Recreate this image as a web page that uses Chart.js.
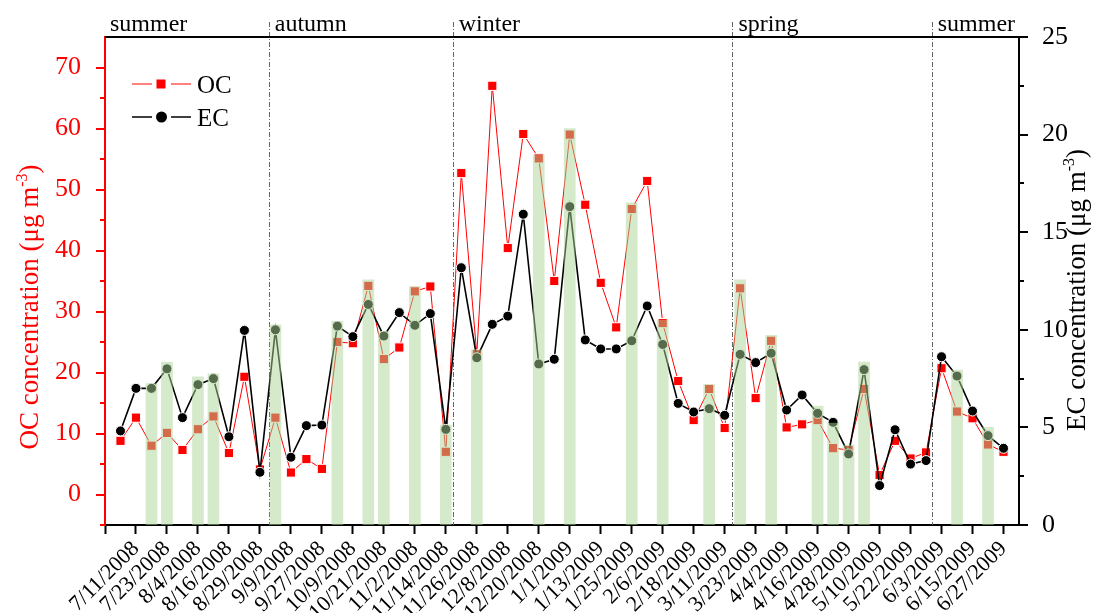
<!DOCTYPE html>
<html>
<head>
<meta charset="utf-8">
<script src="https://cdn.jsdelivr.net/npm/chart.js@4/dist/chart.umd.min.js"></script>
<style>
html,body{margin:0;padding:0;background:#fff;}
#wrap{width:1107px;height:613px;}
</style>
</head>
<body>
<div id="wrap"><canvas id="c" width="1107" height="613"></canvas></div>
<script>
// ---------------- data ----------------
const xIndex = [1,2,3,4,5,6,7,8,9,10,11,12,13,14,15,16,17,18,19,20,21,22,23,24,25,26,27,28,29,30,
  31,32,33,34,35,36,37,38,39,40,41,42,43,44,45,46,47,48,49,50,51,52,53,54,55,56,57,58];

const dateLabels = ['7/11/2008','7/23/2008','8/4/2008','8/16/2008','8/29/2008','9/9/2008','9/27/2008',
  '10/9/2008','10/21/2008','11/2/2008','11/14/2008','11/26/2008','12/8/2008','12/20/2008','1/1/2009',
  '1/13/2009','1/25/2009','2/6/2009','2/18/2009','3/11/2009','3/23/2009','4/4/2009','4/16/2009',
  '4/28/2009','5/10/2009','5/22/2009','6/3/2009','6/15/2009','6/27/2009'];
const dateTickPositions = [0,2,4,6,8,10,12,14,16,18,20,22,24,26,28,30,32,34,36,38,40,42,44,46,48,50,52,54,56,58];

const ocValues = [8.8,12.6,8.0,10.1,7.3,10.7,12.8,6.8,19.3,4.1,12.6,3.6,5.8,4.2,25.0,24.8,34.2,22.2,24.1,33.3,
  34.1,7.0,52.7,23.0,67.0,40.4,59.1,55.1,35.0,59.0,47.5,34.7,27.4,46.8,51.4,28.1,18.6,12.2,17.3,10.9,
  33.8,15.8,25.2,11.0,11.5,12.2,7.6,7.3,17.3,3.2,8.8,5.9,6.9,20.7,13.6,12.5,8.2,7.0];

const ecValues = [4.82,7.0,7.0,8.0,5.5,7.19,7.5,4.52,9.97,2.7,10.0,3.47,5.09,5.12,10.19,9.65,11.3,9.68,10.88,10.23,
  10.83,4.9,13.18,8.57,10.28,10.7,15.92,8.25,8.49,16.31,9.48,9.02,9.02,9.44,11.22,9.25,6.23,5.79,5.96,5.62,
  8.74,8.32,8.8,5.89,6.66,5.72,5.26,3.64,7.96,2.02,4.88,3.12,3.3,8.62,7.63,5.84,4.58,3.93];

// highlighted sampling days (bar height in OC units), null = no bar
const highlightValues = [null,null,18.2,21.7,null,19.3,19.8,null,null,null,27.8,null,null,null,28.4,null,35.2,26.7,null,34.1,
  null,11.4,null,23.7,null,null,null,55.7,null,60.0,null,null,null,47.8,null,28.6,null,null,18.0,null,
  35.2,null,26.1,null,null,14.5,11.7,8.1,21.7,null,null,null,null,null,20.4,null,11.0,null];

const ocTicks = [0,10,20,30,40,50,60,70];
const ecTicks = [0,5,10,15,20,25];
const seasonNames = ['summer','autumn','winter','spring','summer'];
const seasonBounds = [10.57, 22.45, 40.5, 53.37];

// ---------------- styling ----------------
const SERIF = '"Liberation Serif","Times New Roman",serif';
const RED = '#ff0000';
const BAR = 'rgba(170,214,150,0.5)';

function drawRich(ctx, parts, cx, cy, rot, color) {
  ctx.save();
  ctx.translate(cx, cy);
  ctx.rotate(rot);
  ctx.fillStyle = color;
  ctx.textBaseline = 'alphabetic';
  ctx.textAlign = 'left';
  let total = 0;
  parts.forEach(p => { ctx.font = p.size + 'px ' + SERIF; p.w = ctx.measureText(p.t).width; total += p.w; });
  let x = -total / 2;
  parts.forEach(p => { ctx.font = p.size + 'px ' + SERIF; ctx.fillText(p.t, x, -(p.rise || 0)); x += p.w; });
  ctx.restore();
}

const decor = {
  id: 'decor',
  beforeDatasetsDraw(chart) {
    const ctx = chart.ctx, xs = chart.scales.x, ca = chart.chartArea;
    ctx.save();
    ctx.strokeStyle = '#666';
    ctx.lineWidth = 1;
    ctx.setLineDash([5, 2, 1, 2]);
    seasonBounds.forEach(b => {
      const px = Math.round(xs.getPixelForValue(b)) + 0.5;
      ctx.beginPath(); ctx.moveTo(px, 22); ctx.lineTo(px, ca.bottom); ctx.stroke();
    });
    ctx.restore();
  },
  afterDraw(chart) {
    const ctx = chart.ctx, ca = chart.chartArea, xs = chart.scales.x;
    const yo = chart.scales.yOC, ye = chart.scales.yEC;
    ctx.save();
    // top frame
    ctx.strokeStyle = '#000'; ctx.lineWidth = 2;
    ctx.beginPath(); ctx.moveTo(ca.left, ca.top); ctx.lineTo(ca.right + 1, ca.top); ctx.stroke();
    // left ticks (major + minor)
    ctx.strokeStyle = RED; ctx.lineWidth = 2;
    for (let v = -5; v <= 70; v += 5) {
      const y = Math.round(yo.getPixelForValue(v));
      const len = (v % 10 === 0) ? 9 : 5;
      ctx.beginPath(); ctx.moveTo(ca.left, y); ctx.lineTo(ca.left - len, y); ctx.stroke();
    }
    // right ticks
    ctx.strokeStyle = '#000';
    for (let v = 0; v <= 25; v += 2.5) {
      const y = Math.round(ye.getPixelForValue(v));
      const len = (v % 5 === 0) ? 9 : 5;
      ctx.beginPath(); ctx.moveTo(ca.right, y); ctx.lineTo(ca.right + len, y); ctx.stroke();
    }
    // season labels
    ctx.fillStyle = '#000';
    ctx.font = '24px ' + SERIF;
    ctx.textBaseline = 'alphabetic'; ctx.textAlign = 'left';
    ctx.fillText(seasonNames[0], ca.left + 5, 31);
    seasonBounds.forEach((b, i) => {
      ctx.fillText(seasonNames[i + 1], xs.getPixelForValue(b) + 6, 31);
    });
    // legend
    ctx.font = '25px ' + SERIF;
    // OC row
    ctx.strokeStyle = RED; ctx.lineWidth = 1;
    ctx.beginPath(); ctx.moveTo(132, 84); ctx.lineTo(152, 84); ctx.moveTo(171, 84); ctx.lineTo(191, 84); ctx.stroke();
    ctx.fillStyle = RED; ctx.fillRect(156.5, 79.5, 9, 9);
    ctx.fillStyle = '#000'; ctx.fillText('OC', 197, 93);
    // EC row
    ctx.strokeStyle = '#000'; ctx.lineWidth = 1.6;
    ctx.beginPath(); ctx.moveTo(132, 117); ctx.lineTo(152, 117); ctx.moveTo(171, 117); ctx.lineTo(191, 117); ctx.stroke();
    ctx.beginPath(); ctx.arc(161.5, 117, 5.5, 0, Math.PI * 2); ctx.fill();
    ctx.fillText('EC', 197, 125.5);
    ctx.restore();
    // axis titles
    drawRich(ctx, [{t: 'OC concentration (\u03bcg m', size: 27}, {t: '-3', size: 16, rise: 11}, {t: ')', size: 27}],
      38, 307, -Math.PI / 2, RED);
    drawRich(ctx, [{t: 'EC concentration (\u03bcg m', size: 27}, {t: '-3', size: 16, rise: 11}, {t: ')', size: 27}],
      1085, 290, -Math.PI / 2, '#000');
  }
};

new Chart(document.getElementById('c').getContext('2d'), {
  type: 'line',
  data: {
    labels: xIndex,
    datasets: [
      {
        type: 'bar', label: 'highlight', data: highlightValues, yAxisID: 'yOC',
        backgroundColor: BAR, borderWidth: 0, barThickness: 11, base: -5, order: 0
      },
      {
        label: 'OC', data: ocValues, yAxisID: 'yOC',
        borderColor: RED, borderWidth: 1, tension: 0,
        pointStyle: 'rect', pointRadius: 6.5, pointBackgroundColor: RED,
        pointBorderColor: '#ffffff', pointBorderWidth: 1, order: 2
      },
      {
        label: 'EC', data: ecValues, yAxisID: 'yEC',
        borderColor: '#000', borderWidth: 1.6, tension: 0,
        pointStyle: 'circle', pointRadius: 5, pointBackgroundColor: '#000',
        pointBorderColor: '#ffffff', pointBorderWidth: 1, order: 1
      }
    ]
  },
  options: {
    responsive: false,
    animation: false,
    events: [],
    layout: {padding: {top: 37, left: 0, right: 0, bottom: 0}},
    plugins: {legend: {display: false}, tooltip: {enabled: false}, title: {display: false}},
    scales: {
      x: {
        type: 'linear', position: 'bottom', min: 0, max: 59, offset: false,
        afterBuildTicks: s => { s.ticks = dateTickPositions.map(v => ({value: v})); },
        afterFit: s => { s.height = 88; },
        grid: {display: true, offset: false, drawOnChartArea: false, drawTicks: true, tickLength: 9, tickWidth: 2, tickColor: '#000'},
        border: {display: true, color: '#000', width: 2},
        ticks: {
          autoSkip: false, minRotation: 45, maxRotation: 45, padding: 2, color: '#000',
          font: {family: SERIF, size: 22},
          callback: v => (v === 0 ? '' : dateLabels[v / 2 - 1])
        }
      },
      yOC: {
        type: 'linear', position: 'left', min: -5, max: 75,
        afterBuildTicks: s => { s.ticks = ocTicks.map(v => ({value: v})); },
        afterFit: s => { s.width = 105; },
        grid: {display: false},
        border: {display: true, color: RED, width: 2},
        ticks: {color: RED, padding: 16, font: {family: SERIF, size: 26}}
      },
      yEC: {
        type: 'linear', position: 'right', min: 0, max: 25,
        afterBuildTicks: s => { s.ticks = ecTicks.map(v => ({value: v})); },
        afterFit: s => { s.width = 88; },
        grid: {display: false},
        border: {display: true, color: '#000', width: 2},
        ticks: {color: '#000', padding: 15, font: {family: SERIF, size: 26}}
      }
    }
  },
  plugins: [decor]
});
</script>
</body>
</html>
